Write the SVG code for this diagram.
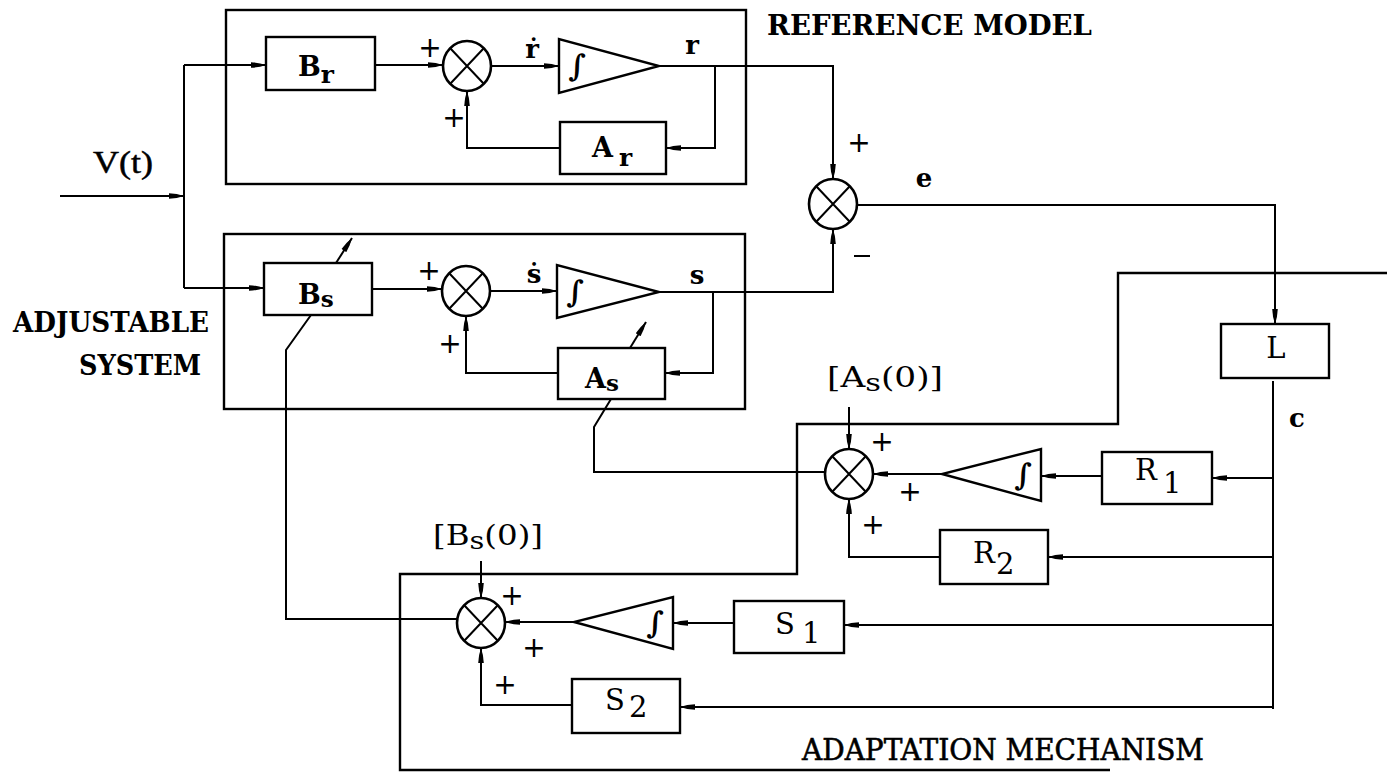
<svg xmlns="http://www.w3.org/2000/svg" width="1387" height="774" viewBox="0 0 1387 774">
<defs>
<marker id="ah" markerUnits="userSpaceOnUse" markerWidth="16" markerHeight="8" refX="15" refY="4" orient="auto">
<path d="M0,1.2 Q8,1.5 15,4 Q8,6.5 0,6.8 z" fill="#000"/>
</marker>
<style>
.ln{fill:none;stroke:#000;stroke-width:2}
.ar{fill:none;stroke:#000;stroke-width:2;marker-end:url(#ah)}
.bx{fill:#fff;stroke:#000;stroke-width:2.4}
.fr{fill:none;stroke:#000;stroke-width:2.4}
.sum{fill:#fff;stroke:#000;stroke-width:2.6}
.x{stroke:#000;stroke-width:2}
.blk{font-family:"DejaVu Serif",serif;font-weight:bold;font-size:27px}
.ser{font-family:"DejaVu Serif",serif;font-size:29px}
.sig{font-family:"DejaVu Serif",serif;font-weight:bold;font-size:26px;text-anchor:middle}
.pl{font-family:"DejaVu Sans",sans-serif;font-size:28px;text-anchor:middle;dominant-baseline:central}
.ttl{font-family:"DejaVu Serif",serif;font-weight:bold;font-size:27px}
.ttl2{font-family:"DejaVu Serif",serif;font-size:29px;stroke:#000;stroke-width:0.6}
.int{font-family:"DejaVu Serif",serif;font-style:italic;font-weight:bold;font-size:30px;text-anchor:middle}
.vt{font-family:"Liberation Serif",serif;font-size:31px;stroke:#000;stroke-width:0.5}
.ini{font-family:"DejaVu Serif",serif;font-size:27px}
</style>
</defs>

<g id="frames">
<rect class="fr" x="226" y="10" width="520" height="174"/>
<rect class="fr" x="224" y="234" width="521" height="175"/>
</g>

<g id="connectors">
<path class="ar" d="M60,196 H184"/>
<path class="ln" d="M184,65 V288"/>
<path class="ar" d="M184,65 H266"/>
<path class="ar" d="M184,288 H264"/>
<path class="ar" d="M375,65 H443"/>
<path class="ar" d="M491,66 H559"/>
<path class="ar" d="M659,66 H833 V179"/>
<path class="ar" d="M715,66 V148 H666"/>
<path class="ar" d="M560,148 H467 V91"/>
<path class="ar" d="M372,289 H442"/>
<path class="ar" d="M490,291 H557"/>
<path class="ar" d="M659,292 H833 V229"/>
<path class="ar" d="M713,292 V373 H665"/>
<path class="ar" d="M558,373 H466 V316"/>
<path class="ar" d="M857,205 H1275 V324"/>
<path class="ln" d="M1273,381 V709"/>
<path class="ar" d="M1273,478 H1212"/>
<path class="ar" d="M1102,476 H1041"/>
<path class="ar" d="M942,474 H873"/>
<path class="ar" d="M1273,557 H1048"/>
<path class="ar" d="M940,557 H849 V499"/>
<path class="ar" d="M849,407 V449"/>
<path class="ln" d="M825,472 H594 V427 L611,399"/>
<path class="ar" d="M630,348 L646,322"/>
<path class="ar" d="M1273,625 H844"/>
<path class="ar" d="M734,623 H673"/>
<path class="ar" d="M574,622 H505"/>
<path class="ar" d="M1273,707 H680"/>
<path class="ar" d="M572,705 H481 V648"/>
<path class="ar" d="M481,561 V598"/>
<path class="ln" d="M457,619 H286 V350 L311,315"/>
<path class="ar" d="M336,263 L352,238"/>
<path class="fr" d="M1387,273 H1118 V424 H797 V574 H400 V770 H1110"/>
</g>

<g id="Br"><rect class="bx" x="266" y="37" width="109" height="53"/>
<text class="blk" x="298" y="76">B<tspan font-size="25" dy="7">r</tspan></text></g>
<g id="Ar"><rect class="bx" x="560" y="122" width="106" height="52"/>
<text class="blk" x="592" y="157">A<tspan font-size="25" dx="6" dy="9">r</tspan></text></g>
<g id="Bs"><rect class="bx" x="264" y="263" width="108" height="52"/>
<text class="blk" x="298" y="304">B<tspan font-size="23" dy="3">s</tspan></text></g>
<g id="As"><rect class="bx" x="558" y="348" width="107" height="51"/>
<text class="blk" x="585" y="388">A<tspan font-size="23" dy="3">s</tspan></text></g>
<g id="L"><rect class="bx" x="1221" y="324" width="108" height="54"/>
<text class="ser" x="1276" y="358" text-anchor="middle">L</text></g>
<g id="R1"><rect class="bx" x="1102" y="452" width="110" height="52"/>
<text class="ser" x="1135" y="480">R</text><text class="ser" x="1163" y="493">1</text></g>
<g id="R2"><rect class="bx" x="940" y="530" width="108" height="54"/>
<text class="ser" x="973" y="563">R</text><text class="ser" x="996" y="574">2</text></g>
<g id="S1"><rect class="bx" x="734" y="601" width="110" height="52"/>
<text class="ser" x="775" y="634">S</text><text class="ser" x="802" y="643">1</text></g>
<g id="S2"><rect class="bx" x="572" y="679" width="108" height="54"/>
<text class="ser" x="605" y="710">S</text><text class="ser" x="629" y="717">2</text></g>

<g id="sumR1"><ellipse class="sum" cx="467" cy="66" rx="24" ry="25"/><path class="x" d="M450,48 L484,84 M484,48 L450,84"/></g>
<g id="sumE"><ellipse class="sum" cx="833" cy="204" rx="24" ry="25"/><path class="x" d="M816,186 L850,222 M850,186 L816,222"/></g>
<g id="sumS"><ellipse class="sum" cx="466" cy="291" rx="24" ry="25"/><path class="x" d="M449,273 L483,309 M483,273 L449,309"/></g>
<g id="sumA"><ellipse class="sum" cx="849" cy="474" rx="24" ry="25"/><path class="x" d="M832,456 L866,492 M866,456 L832,492"/></g>
<g id="sumB"><ellipse class="sum" cx="481" cy="623" rx="24" ry="25"/><path class="x" d="M464,605 L498,641 M498,605 L464,641"/></g>

<g id="intR"><path class="bx" d="M559,39 L559,93 L659,66 Z"/><text class="int" x="577" y="76">∫</text></g>
<g id="intS"><path class="bx" d="M557,265 L557,318 L659,292 Z"/><text class="int" x="575" y="302">∫</text></g>
<g id="intA"><path class="bx" d="M1041,449 L1041,501 L942,474 Z"/><text class="int" x="1023" y="485">∫</text></g>
<g id="intB"><path class="bx" d="M673,597 L673,649 L574,622 Z"/><text class="int" x="655" y="633">∫</text></g>

<g id="labels">
<text class="vt" x="93" y="173" textLength="60" lengthAdjust="spacingAndGlyphs">V(t)</text>
<text class="sig" x="532" y="58">ṙ</text>
<text class="sig" x="692" y="54">r</text>
<text class="sig" x="534" y="283">ṡ</text>
<text class="sig" x="697" y="284">s</text>
<text class="sig" x="924" y="187">e</text>
<text class="sig" x="1297" y="427">c</text>
<text class="pl" x="430" y="47">+</text>
<text class="pl" x="454" y="117">+</text>
<text class="pl" x="429" y="270">+</text>
<text class="pl" x="450" y="343">+</text>
<text class="pl" x="859" y="142">+</text>
<path d="M854,256 H870" stroke="#000" stroke-width="2"/>
<text class="pl" x="882" y="441">+</text>
<text class="pl" x="910" y="491">+</text>
<text class="pl" x="873" y="524">+</text>
<text class="pl" x="512" y="595">+</text>
<text class="pl" x="534" y="647">+</text>
<text class="pl" x="505" y="684">+</text>
<text class="ini" x="827" y="387" textLength="116" lengthAdjust="spacingAndGlyphs">[A<tspan font-size="24" dy="4">s</tspan><tspan dy="-4">(0)]</tspan></text>
<text class="ini" x="433" y="545" textLength="110" lengthAdjust="spacingAndGlyphs">[B<tspan font-size="24" dy="4">s</tspan><tspan dy="-4">(0)]</tspan></text>
<text class="ttl" x="767" y="35" textLength="325" lengthAdjust="spacingAndGlyphs">REFERENCE  MODEL</text>
<text class="ttl" x="13" y="332" textLength="196" lengthAdjust="spacingAndGlyphs">ADJUSTABLE</text>
<text class="ttl" x="79" y="375" textLength="122" lengthAdjust="spacingAndGlyphs">SYSTEM</text>
<text class="ttl2" x="802" y="760" textLength="402" lengthAdjust="spacingAndGlyphs">ADAPTATION  MECHANISM</text>
</g>
</svg>
